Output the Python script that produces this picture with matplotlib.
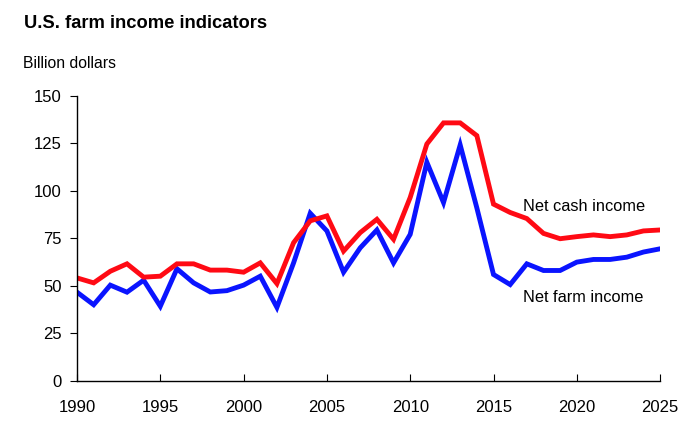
import matplotlib
matplotlib.use("Agg")
import matplotlib.pyplot as plt

plt.rcParams['font.family'] = ['Liberation Sans', 'DejaVu Sans']

years = list(range(1990, 2026))

net_cash = [54.2, 51.6, 57.7, 61.6, 54.6, 55.1, 61.6, 61.6, 58.3, 58.3,
            57.2, 62.1, 51.2, 72.7, 84.2, 86.8, 68.3, 78.0, 85.0, 74.5,
            96.5, 124.6, 135.7, 135.7, 129.0, 93.0, 88.6, 85.4, 77.6, 74.8,
            75.9, 76.8, 75.9, 76.8, 78.9, 79.4]

net_farm = [46.7, 40.1, 50.4, 46.7, 53.0, 39.3, 59.0, 51.6, 46.8, 47.5,
            50.4, 55.1, 38.7, 62.1, 88.2, 78.9, 57.2, 70.0, 79.4, 62.1,
            77.1, 115.0, 93.8, 124.1, 91.0, 56.0, 50.7, 61.6, 58.1, 58.1,
            62.5, 63.9, 63.9, 65.1, 67.8, 69.5]

fig = plt.figure(figsize=(7, 4.45), dpi=100)
ax = fig.add_axes([0.11, 0.1438, 0.833, 0.6412])

ax.plot(years, net_farm, color='#0a14ff', lw=3.5, solid_joinstyle='miter')
ax.plot(years, net_cash, color='#ff0a14', lw=3.5, solid_joinstyle='miter')

ax.set_xlim(1990, 2025)
ax.set_ylim(0, 150)
ax.set_xticks(range(1990, 2026, 5))
ax.set_yticks(range(0, 151, 25))
ax.spines['top'].set_visible(False)
ax.spines['right'].set_visible(False)
ax.tick_params(axis='x', direction='in', length=5, labelsize=12, pad=14)
ax.tick_params(axis='y', direction='out', length=5, labelsize=12, pad=6)
for s in ['left', 'bottom']:
    ax.spines[s].set_linewidth(1.0)

ax.text(2016.8, 92.0, 'Net cash income', fontsize=11.8, va='center', ha='left')
ax.text(2016.8, 44.0, 'Net farm income', fontsize=11.8, va='center', ha='left')

fig.text(24 / 700, 1 - 24 / 445, 'U.S. farm income indicators',
         fontsize=13.2, fontweight='bold', va='center', ha='left')
fig.text(23 / 700, 1 - 63 / 445, 'Billion dollars', fontsize=11.3,
         va='center', ha='left')

fig.savefig('out.png', dpi=100)
